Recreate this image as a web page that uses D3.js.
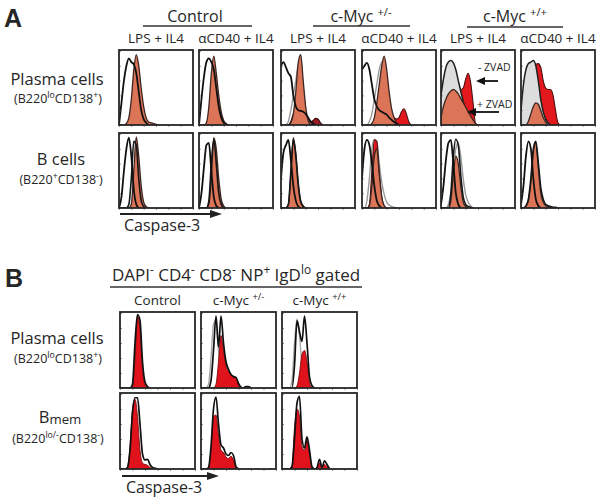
<!DOCTYPE html>
<html><head><meta charset="utf-8">
<script src="https://cdn.jsdelivr.net/npm/d3@7"></script>
<style>
body{margin:0;background:#fff}
svg{display:block}
text{font-family:"Open Sans","Noto Sans",sans-serif;fill:#262626}
</style>
</head><body>
<svg id="c" width="601" height="503"></svg>
<script>
// ---------- labels ----------
const groupLabelsA = [["Control",""],["c-Myc ","+/-"],["c-Myc ","+/+"]];
const stimLabels = ["LPS + IL4","\u03b1CD40 + IL4"];
const rowLabelsA = ["Plasma cells","B cells"];
const colLabelsB = [["Control",""],["c-Myc ","+/-"],["c-Myc ","+/+"]];
const axisLabel = "Caspase-3";
const NBINS = 30; // histogram bins across each box (log Caspase-3 channel)

// ---------- Panel A, row 1 (Plasma cells), values = % of max count per bin ----------
const a11_open = [0,30,60,80,90,85,82,70,45,20,8,3,0];
const a11_fill = [0,0,0,2,10,35,75,95,80,50,25,10,4,3,2,1,0];
const a12_open = [0,35,65,85,90,85,75,50,25,10,3,0];
const a12_fill = [0,0,0,3,25,70,93,70,40,18,6,2,0];
const a13_open = [80,85,78,70,65,40,25,20,19,18,15,10,5,2,0];
const a13_red  = [0,0,0,0,5,15,18,20,20,18,15,8,4,6,9,8,3,0];
const a13_gray = [0,0,0,5,20,40,60,80,85,50,20,6,0];
const a13_fill = [0,0,0,0,3,15,45,85,95,60,25,6,0];
const a14_open = [75,80,84,75,55,35,25,20,18,16,14,10,7,4,2,0];
const a14_red  = [0,0,0,0,0,3,8,12,14,14,12,12,12,10,8,10,18,22,15,4,0];
const a14_gray = [0,0,0,5,15,35,55,75,85,80,60,35,15,5,0];
const a14_fill = [0,0,0,0,2,10,30,55,80,93,75,45,22,10,3,0];
const a15_red  = [40,60,75,82,84,80,70,58,48,50,62,70,58,30,2,0];
const a15_gray = [40,62,78,85,87,84,75,60,46,32,20,10,4,1,0];
const a15_fill = [10,25,35,42,46,48,46,42,36,30,24,18,12,7,2,0];
const a16_red  = [10,40,65,75,78,80,82,83,78,60,50,48,48,40,20,3,0];
const a16_gray = [20,55,75,83,85,87,80,60,35,18,8,3,0];
const a16_fill = [0,0,0,5,15,25,30,28,20,10,4,0];
// ---------- Panel A, row 2 (B cells) ----------
const a21_open = [0,15,50,80,95,70,25,5,0];
const a21_line = [0,0,0,0,5,40,90,85,40,10,2,0];
const a21_fill = [0,0,0,0,0,5,50,96,70,30,8,2,0];
const a22_open = [0,20,55,85,88,50,15,3,0];
const a22_line = [0,0,0,0,10,60,93,60,20,5,0];
const a22_fill = [0,0,0,0,5,40,95,80,40,12,3,0];
const a23_open = [40,75,85,92,65,30,10,2,0];
const a23_line = [0,0,0,5,50,92,70,30,8,2,0];
const a23_fill = [0,0,0,5,45,95,75,35,10,3,0];
const a24_open = [40,80,92,85,60,30,10,3,0];
const a24_gray = [0,0,10,40,80,93,90,60,35,18,8,4,2,1,0];
const a24_red  = [0,0,0,5,50,92,90,50,15,3,0];
const a24_fill = [0,0,0,3,30,70,80,45,15,3,0];
const a25_open = [5,30,65,88,92,60,20,5,0];
const a25_gray = [0,0,0,5,20,50,80,88,70,40,18,8,3,0];
const a25_line = [0,0,0,0,20,70,93,85,45,15,5,2,1,0];
const a25_fill = [0,0,0,0,10,45,70,60,30,8,2,0];
const a26_open = [5,30,70,90,80,40,12,3,0];
const a26_line = [0,0,3,12,40,80,90,62,28,12,5,3,2,1,1,0];
const a26_fill = [0,0,3,10,35,75,89,55,20,8,3,2,1,0];
// ---------- Panel B ----------
const b11_red  = [0,0,0,0,0,3,40,96,80,25,5,1,0];
const b11_line = [0,0,0,0,0,5,60,98,90,35,8,2,0];
const b12_gray = [0,0,0,5,40,85,90,50,20,5,0];
const b12_red  = [0,0,0,0,0,0,5,35,70,50,30,22,18,16,14,5,0];
const b12_line = [0,0,0,0,10,50,96,55,96,60,35,25,18,15,14,6,1,0,2,2,0];
const b13_gray = [0,0,0,0,10,60,92,70,30,10,2,0];
const b13_red  = [0,0,0,0,0,0,3,20,45,50,35,8,0];
const b13_line = [0,0,0,0,0,30,90,75,62,96,60,15,3,0];
const b21_red  = [0,0,0,3,30,80,93,70,25,8,6,5,2,0];
const b21_line = [0,0,0,2,25,75,95,95,60,20,12,13,6,2,1,0];
const b22_red  = [0,0,0,2,25,70,72,45,25,22,16,14,17,12,2,0];
const b22_line = [0,0,0,2,30,80,96,60,32,28,20,18,22,18,3,0];
const b23_red  = [0,0,0,0,5,55,80,70,30,25,38,20,2,0,1,8,1,6,3,0];
const b23_line = [0,0,0,0,3,40,88,97,40,28,43,25,3,0,2,13,2,11,6,0];

// ---------- layout ----------
const colXA = [119,199,281,362,441,521], rowYA = [50,133], BW = 74, BH = 75;
const colXB = [120,201,282], rowYB = [312,393], BWB = 75, BHB = 76;

const styles = {
  salmon:{fill:"#dc7457",stroke:"#3b2621",sw:1.3},
  red:{fill:"#e3181d",stroke:"#4a1212",sw:1.1},
  darkred:{fill:"#9c1b24",stroke:"#3a0d0d",sw:1.1},
  gray:{fill:"#dddddd",stroke:"#1f1f1f",sw:1.5},
  open:{fill:"none",stroke:"#111",sw:1.8},
  grayline:{fill:"none",stroke:"#9a9a9a",sw:1.4},
  line:{fill:"none",stroke:"#161616",sw:1.6},
  bred:{fill:"#e0121c",stroke:"#7a0a0a",sw:0.9},
  bline:{fill:"none",stroke:"#111",sw:1.7},
  bgray:{fill:"none",stroke:"#a8a8a8",sw:1.4}
};

const gridA = [
  [ [["salmon",a11_fill],["open",a11_open]],
    [["salmon",a12_fill],["open",a12_open]],
    [["darkred",a13_red],["grayline",a13_gray],["salmon",a13_fill],["open",a13_open]],
    [["red",a14_red],["grayline",a14_gray],["salmon",a14_fill],["open",a14_open]],
    [["red",a15_red],["gray",a15_gray],["salmon",a15_fill]],
    [["red",a16_red],["gray",a16_gray],["salmon",a16_fill]] ],
  [ [["salmon",a21_fill],["line",a21_line],["open",a21_open]],
    [["salmon",a22_fill],["line",a22_line],["open",a22_open]],
    [["salmon",a23_fill],["line",a23_line],["open",a23_open]],
    [["grayline",a24_gray],["red",a24_red],["salmon",a24_fill],["open",a24_open]],
    [["grayline",a25_gray],["salmon",a25_fill],["line",a25_line],["open",a25_open]],
    [["salmon",a26_fill],["line",a26_line],["open",a26_open]] ]
];
const gridB = [
  [ [["bred",b11_red],["bline",b11_line]],
    [["bgray",b12_gray],["bred",b12_red],["bline",b12_line]],
    [["bgray",b13_gray],["bred",b13_red],["bline",b13_line]] ],
  [ [["bred",b21_red],["bline",b21_line]],
    [["bred",b22_red],["bline",b22_line]],
    [["bred",b23_red],["bline",b23_line]] ]
];

const svg = d3.select("#c");
let clipId = 0;

function drawBox(bx, by, w, h, curves) {
  const g = svg.append("g");
  const x = d3.scaleLinear().domain([0, NBINS]).range([bx, bx + w]);
  const y = d3.scaleLinear().domain([0, 100]).range([by + h, by + 1]);
  const id = "clip" + (clipId++);
  g.append("clipPath").attr("id", id).append("rect")
    .attr("x", bx).attr("y", by).attr("width", w).attr("height", h);
  const inner = g.append("g").attr("clip-path", `url(#${id})`);
  const area = d3.area().x((d, i) => x(i)).y0(y(0)).y1(d => y(d)).curve(d3.curveMonotoneX);
  const line = d3.line().x((d, i) => x(i)).y(d => y(d)).curve(d3.curveMonotoneX);
  curves.forEach(([type, data]) => {
    const s = styles[type];
    if (s.fill !== "none") {
      inner.append("path").attr("d", area(data)).attr("fill", s.fill).attr("stroke", "none");
    }
    inner.append("path").attr("d", line(data)).attr("fill", "none")
      .attr("stroke", s.stroke).attr("stroke-width", s.sw).attr("stroke-linejoin", "round");
  });
  const ax = g.append("g").attr("transform", `translate(0,${by + h})`)
    .call(d3.axisBottom(x).ticks(6).tickSize(2).tickFormat(""));
  const ay = g.append("g").attr("transform", `translate(${bx},0)`)
    .call(d3.axisLeft(y).ticks(5).tickSize(-2).tickFormat(""));
  [ax, ay].forEach(a => { a.select(".domain").remove(); a.selectAll("line").attr("stroke", "#666").attr("stroke-width", 0.7); });
  g.append("rect").attr("x", bx).attr("y", by).attr("width", w).attr("height", h)
    .attr("fill", "none").attr("stroke", "#262626").attr("stroke-width", 1.8);
}

function rich(x, y, parts, size, anchor) {
  const t = svg.append("text").attr("x", x).attr("y", y).attr("font-size", size)
    .attr("text-anchor", anchor || "middle");
  let shifted = 0;
  parts.forEach(p => {
    const want = p[1] === "sup" ? -0.4 * size : p[1] === "sub" ? 0.05 * size : 0;
    const sp = t.append("tspan").text(p[0]).attr("dy", want - shifted);
    shifted = want;
    if (p[1]) sp.attr("font-size", size * (p[1] === "sub" ? 0.8 : 0.7));
  });
  return t;
}

function arrow(x1, x2, y, label, ly) {
  svg.append("line").attr("x1", x1).attr("x2", x2 - 8).attr("y1", y).attr("y2", y)
    .attr("stroke", "#222").attr("stroke-width", 1.8);
  svg.append("path").attr("d", `M${x2},${y} L${x2 - 12},${y - 4} L${x2 - 12},${y + 4} Z`).attr("fill", "#222");
  svg.append("text").attr("x", x1 + 4).attr("y", ly).attr("font-size", 16).text(label);
}

// ---------- Panel A ----------
svg.append("text").attr("x", 4).attr("y", 27).attr("font-size", 25).attr("font-weight", "bold")
  .style("font-family", "'Liberation Sans',Arial,sans-serif").text("A");
const groupCentersA = [195, 361, 515], groupLinesA = [[143, 252, 26], [313, 410, 26], [467, 563, 27]];
groupLabelsA.forEach((gl, i) => {
  rich(groupCentersA[i], 22, [[gl[0]], [gl[1], "sup"]], 16);
  const L = groupLinesA[i];
  svg.append("line").attr("x1", L[0]).attr("x2", L[1]).attr("y1", L[2]).attr("y2", L[2])
    .attr("stroke", "#333").attr("stroke-width", 1.4);
});
colXA.forEach((cx, i) => {
  svg.append("text").attr("x", cx + BW / 2).attr("y", 43).attr("font-size", 13.5)
    .attr("text-anchor", "middle").text(stimLabels[i % 2]);
});
rich(57, 85, [[rowLabelsA[0]]], 16.5);
rich(58, 103, [["(B220"], ["lo", "sup"], ["CD138"], ["+", "sup"], [")"]], 12.5);
rich(61, 165, [[rowLabelsA[1]]], 16.5);
rich(61, 184, [["(B220"], ["+", "sup"], ["CD138"], ["-", "sup"], [")"]], 12.5);

gridA.forEach((row, r) => row.forEach((curves, c) => drawBox(colXA[c], rowYA[r], BW, BH, curves)));

// ZVAD annotations
svg.append("text").attr("x", 478).attr("y", 71).attr("font-size", 10.5).text("- ZVAD");
svg.append("text").attr("x", 477).attr("y", 108).attr("font-size", 10.5).text("+ ZVAD");
[[498, 476, 81], [499, 467, 112]].forEach(([xa, xb, ya]) => {
  svg.append("line").attr("x1", xa).attr("x2", xb + 6).attr("y1", ya).attr("y2", ya).attr("stroke", "#111").attr("stroke-width", 1.8);
  svg.append("path").attr("d", `M${xb},${ya} L${xb + 9},${ya - 4} L${xb + 9},${ya + 4} Z`).attr("fill", "#111");
});
arrow(120, 222, 214, axisLabel, 231);

// ---------- Panel B ----------
svg.append("text").attr("x", 5).attr("y", 287).attr("font-size", 25).attr("font-weight", "bold")
  .style("font-family", "'Liberation Sans',Arial,sans-serif").text("B");
rich(112, 281, [["DAPI"], ["-", "sup"], [" CD4"], ["-", "sup"], [" CD8"], ["-", "sup"], [" NP"], ["+", "sup"], [" IgD"], ["lo", "sup"], [" gated"]], 17, "start");
svg.append("line").attr("x1", 110).attr("x2", 362).attr("y1", 287).attr("y2", 287)
  .attr("stroke", "#333").attr("stroke-width", 1.4);
colLabelsB.forEach((cl, i) => rich(colXB[i] + BWB / 2, 305, [[cl[0]], [cl[1], "sup"]], 13.5));
rich(57, 344, [["Plasma cells"]], 16.5);
rich(58, 363, [["(B220"], ["lo", "sup"], ["CD138"], ["+", "sup"], [")"]], 12.5);
rich(60, 423, [["B"], ["mem", "sub"]], 16.5);
rich(58, 443, [["(B220"], ["lo/-", "sup"], ["CD138"], ["-", "sup"], [")"]], 12.5);

gridB.forEach((row, r) => row.forEach((curves, c) => drawBox(colXB[c], rowYB[r], BWB, BHB, curves)));
arrow(122, 219, 476, axisLabel, 493);
</script>
</body></html>
